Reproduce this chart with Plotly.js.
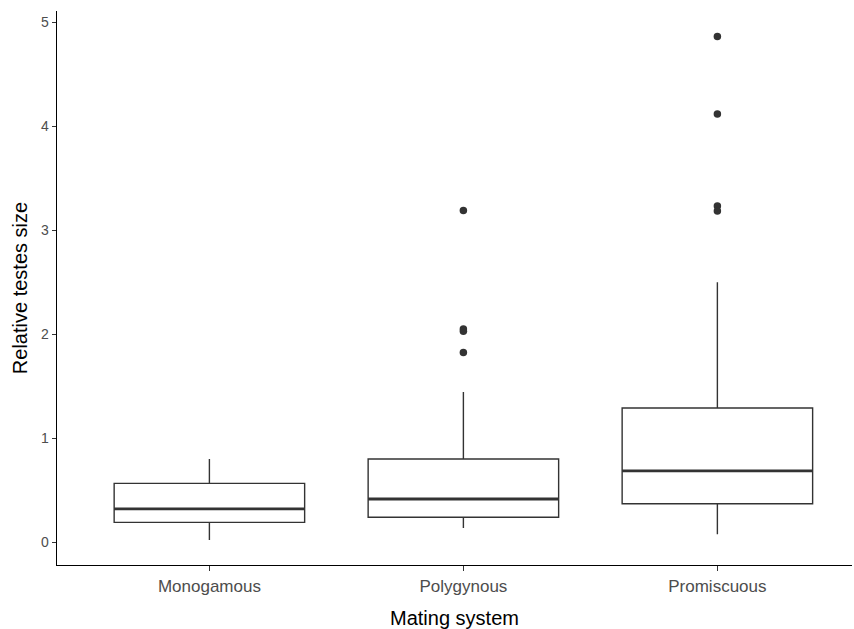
<!DOCTYPE html>
<html>
<head>
<meta charset="utf-8">
<script src="https://cdn.plot.ly/plotly-3.0.1.min.js"></script>
<style>html,body{margin:0;padding:0;background:#fff;}#chart{width:854px;height:629px;}</style>
</head>
<body>
<div id="chart"></div>
<script>
// Data
const categories = ["Monogamous", "Polygynous", "Promiscuous"];
const lowerWhisker = [0.02, 0.135, 0.075];
const q1Values = [0.19, 0.24, 0.37];
const medianValues = [0.32, 0.415, 0.685];
const q3Values = [0.565, 0.80, 1.29];
const upperWhisker = [0.80, 1.445, 2.50];
const outlierCategory = ["Polygynous", "Polygynous", "Polygynous", "Polygynous",
                         "Promiscuous", "Promiscuous", "Promiscuous", "Promiscuous"];
const outlierValues = [3.19, 2.05, 2.03, 1.825, 4.865, 4.12, 3.235, 3.185];
const yTicks = [0, 1, 2, 3, 4, 5];

const lineColor = "#333333";

const boxTrace = {
  type: "box",
  x: categories,
  q1: q1Values,
  median: medianValues,
  q3: q3Values,
  lowerfence: lowerWhisker,
  upperfence: upperWhisker,
  width: 0.75,
  whiskerwidth: 0,
  fillcolor: "#ffffff",
  line: { color: lineColor, width: 1.4 },
  boxpoints: false,
  hoverinfo: "skip",
  showlegend: false
};

// thick median line: zero-height box at the median
const medianTrace = {
  type: "box",
  x: categories,
  q1: medianValues,
  median: medianValues,
  q3: medianValues,
  lowerfence: medianValues,
  upperfence: medianValues,
  width: 0.75,
  whiskerwidth: 0,
  fillcolor: "rgba(0,0,0,0)",
  line: { color: lineColor, width: 2.8 },
  boxpoints: false,
  hoverinfo: "skip",
  showlegend: false
};

const outlierTrace = {
  type: "scatter",
  mode: "markers",
  x: outlierCategory,
  y: outlierValues,
  marker: { color: lineColor, size: 7.5 },
  hoverinfo: "skip",
  showlegend: false
};

const layout = {
  width: 854,
  height: 629,
  margin: { l: 57, r: 2, t: 11, b: 64 },
  paper_bgcolor: "#ffffff",
  plot_bgcolor: "#ffffff",
  boxmode: "overlay",
  font: { family: "Liberation Sans, Arial, sans-serif" },
  xaxis: {
    type: "category",
    categoryorder: "array",
    categoryarray: categories,
    range: [-0.6, 2.53],
    showline: true,
    linecolor: "#000000",
    linewidth: 1.3,
    showgrid: false,
    zeroline: false,
    ticks: "outside",
    ticklen: 5,
    tickwidth: 1.1,
    tickcolor: "#333333",
    tickfont: { size: 17, color: "#4D4D4D" },
    title: { text: "Mating system", font: { size: 20, color: "#000000" }, standoff: 17 }
  },
  yaxis: {
    range: [-0.22, 5.11],
    tickvals: yTicks,
    ticktext: yTicks.map(String),
    showline: true,
    linecolor: "#000000",
    linewidth: 1.3,
    showgrid: false,
    zeroline: false,
    ticks: "outside",
    ticklen: 4,
    tickwidth: 1.1,
    tickcolor: "#333333",
    tickfont: { size: 14, color: "#4D4D4D" },
    title: { text: "Relative testes size", font: { size: 20, color: "#000000" }, standoff: 8 }
  }
};

Plotly.newPlot("chart", [boxTrace, medianTrace, outlierTrace], layout, { displayModeBar: false, staticPlot: true });
</script>
</body>
</html>
